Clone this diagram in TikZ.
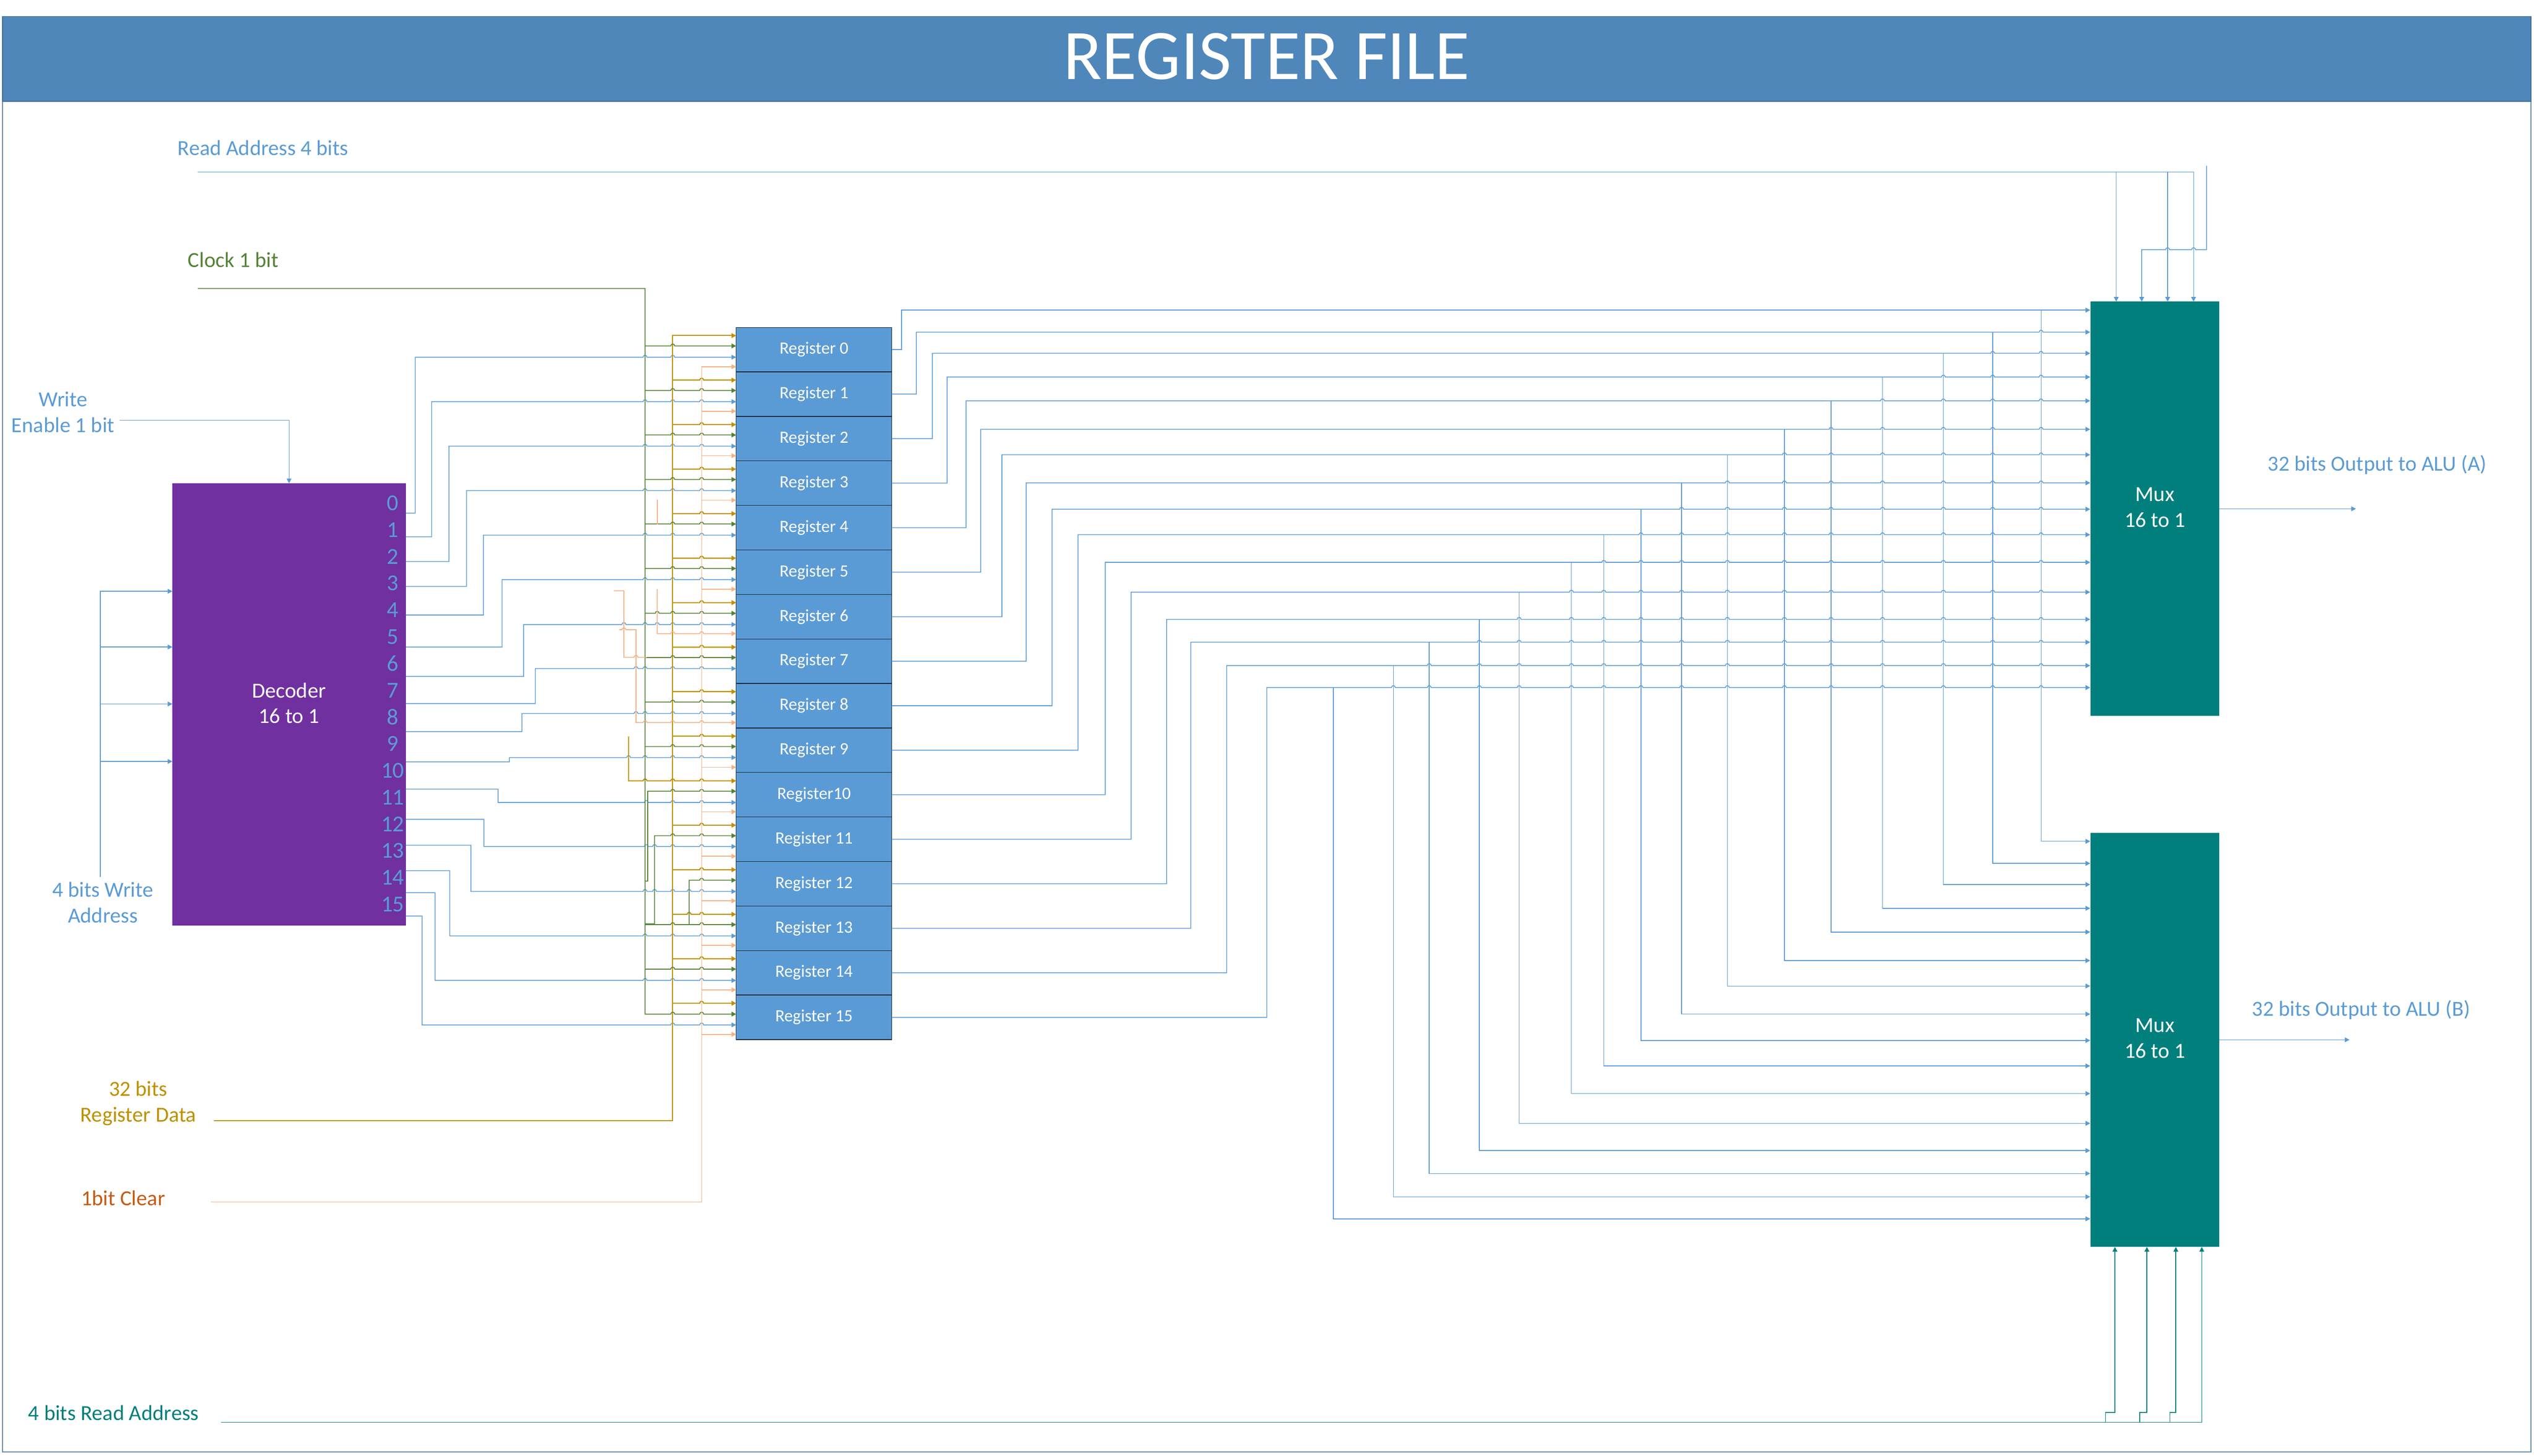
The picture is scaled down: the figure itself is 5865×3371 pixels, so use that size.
\documentclass[tikz,border=0pt]{standalone}
\usepackage{fontspec}
\setmainfont{Carlito}
\usetikzlibrary{positioning}
\usetikzlibrary{arrows.meta}
\definecolor{barblue}{HTML}{4F87BB}
\definecolor{sigblue}{HTML}{5B9BD5}
\definecolor{sigdata}{HTML}{BF9000}
\definecolor{sigclock}{HTML}{548235}
\definecolor{sigclear}{HTML}{F4B183}
\definecolor{txtclear}{HTML}{C55A11}
\definecolor{muxteal}{HTML}{017F7C}
\definecolor{decpurple}{HTML}{7030A0}
\tikzset{
  txt/.style={font=\fontsize{14.15}{17}\selectfont,align=center,inner sep=0pt},
  blk/.style={txt,text=white,minimum width=#1,inner sep=0pt,outer sep=0pt},
  regbox/.style={blk=36mm,fill=sigblue,draw=black!75!sigblue,line width=0.15mm,minimum height=10.306mm,font=\fontsize{11.3}{13}\selectfont},
  muxbox/.style={blk=29.9mm,fill=muxteal,minimum height=95.9mm},
  bitnum/.style={txt,text=sigblue,font=\fontsize{15}{17}\selectfont},
  tip/.style={-{Triangle[length=1.1mm,width=1.1mm]}},
  wblue/.style={draw=sigblue,line width=0.18mm},
  wdata/.style={draw=sigdata,line width=0.25mm},
  wclock/.style={draw=sigclock,line width=0.2mm},
  wclear/.style={draw=sigclear,line width=0.2mm},
  wteal/.style={draw=muxteal,line width=0.2mm},
}
% style, start of the path, height, jumps, end anchor
\newcommand{\hopwire}[5]{\draw[#1] #2 \foreach \hx in {#4} {-- (\hx-4.5,#3) arc[start angle=180,end angle=0,radius=0.45mm]} -- (#5 |- 0,#3);}
\begin{document}
\begin{tikzpicture}[x=0.1mm,y=-0.1mm]
    \useasboundingbox (0,0) rectangle (5865,3371);
    % frame and title
    \draw[draw=sigblue!70!black!80,line width=0.2mm] (6,235) rectangle (5858,3362);
    \node[fill=barblue,draw=barblue!80!black,line width=0.2mm,minimum width=585.2mm,minimum height=19.7mm,inner sep=0pt] (title) at (2932,136.5) {};
    \node[txt,text=white,font=\fontsize{46.8}{50}\selectfont] (titletxt) at (2932,131) {REGISTER FILE};
    % blocks
    \node[blk=54mm,fill=decpurple,minimum height=102.4mm] (dec) at (669,1631) {};
    \node[muxbox] (muxA) at (4987.5,1178) {};
    \node[muxbox] (muxB) at (4987.5,2407.5) {};
    \node[txt,text=white] (dectxt)  at (669,1628)      {Decoder\\16 to 1};
    \node[txt,text=white] (muxAtxt) at (4987.5,1175)   {Mux\\16 to 1};
    \node[txt,text=white] (muxBtxt) at (4987.5,2404.5) {Mux\\16 to 1};
    \node[regbox] (R0) at (1884,809.5) {Register 0};
    \node[regbox,below=0pt of R0]  (R1)  {Register 1};
    \node[regbox,below=0pt of R1]  (R2)  {Register 2};
    \node[regbox,below=0pt of R2]  (R3)  {Register 3};
    \node[regbox,below=0pt of R3]  (R4)  {Register 4};
    \node[regbox,below=0pt of R4]  (R5)  {Register 5};
    \node[regbox,below=0pt of R5]  (R6)  {Register 6};
    \node[regbox,below=0pt of R6]  (R7)  {Register 7};
    \node[regbox,below=0pt of R7]  (R8)  {Register 8};
    \node[regbox,below=0pt of R8]  (R9)  {Register 9};
    \node[regbox,below=0pt of R9]  (R10) {Register10};
    \node[regbox,below=0pt of R10] (R11) {Register 11};
    \node[regbox,below=0pt of R11] (R12) {Register 12};
    \node[regbox,below=0pt of R12] (R13) {Register 13};
    \node[regbox,below=0pt of R13] (R14) {Register 14};
    \node[regbox,below=0pt of R14] (R15) {Register 15};
    \foreach \k in {0,...,15}
      \node[bitnum] (d\k) at (909,1165+61.9*\k) {\k};
    % labels
    \node[txt,text=sigblue]  (lblread)  at (609,342)   {Read Address 4 bits};
    \node[txt,text=sigclock] (lblclock) at (540,602)   {Clock 1 bit};
    \node[txt,text=sigblue]  (lblwe)    at (146,954)   {Write\\Enable 1 bit};
    \node[txt,text=sigblue]  (lblwa)    at (238,2090)  {4 bits Write\\Address};
    \node[txt,text=sigdata]  (lbldata)  at (320,2555)  {32 bits\\Register Data};
    \node[txt,text=txtclear] (lblclear) at (285,2774)  {1bit Clear};
    \node[txt,text=muxteal]  (lblrdb)   at (263,3271)  {4 bits Read Address};
    \node[txt,text=sigblue]  (lblalua)  at (5502,1076) {32 bits Output to ALU (A)};
    \node[txt,text=sigblue]  (lblalub)  at (5465,2338) {32 bits Output to ALU (B)};
    % free ends
    \coordinate (rdA)  at (458,398);
    \coordinate (clk)  at (458,668);
    \coordinate (we)   at (277,973);
    \coordinate (wa)   at (232,2030);
    \coordinate (dat)  at (495,2595);
    \coordinate (clr)  at (488,2783);
    \coordinate (rdB)  at (511,3293);
    \coordinate (outA) at (5453,1178);
    \coordinate (outB) at (5438,2407.5);
    % write enable and write address
    \draw[wblue,tip] (we) -| (dec.north);
    \draw[wblue,tip] (wa) |- (dec.west |- 0,1369);
    \foreach \y in {1498,1630,1763}
      \draw[wblue,tip] (232,\y) -- (dec.west |- 0,\y);
    % decoder to registers
    \hopwire{wblue,tip}{(dec.east |- 0,1188) -| (961,827)}{827}{1493,1557}{R0.west}
    \hopwire{wblue,tip}{(dec.east |- 0,1243) -| (999,930)}{930}{1493,1557,1624}{R1.west}
    \hopwire{wblue,tip}{(dec.east |- 0,1300) -| (1039,1033)}{1033}{1493,1557,1624}{R2.west}
    \hopwire{wblue,tip}{(dec.east |- 0,1358) -| (1080,1136)}{1136}{1493,1557,1624}{R3.west}
    \hopwire{wblue,tip}{(dec.east |- 0,1424) -| (1119,1239)}{1239}{1493,1557,1624}{R4.west}
    \hopwire{wblue,tip}{(dec.east |- 0,1498) -| (1162,1342)}{1342}{1493,1557,1624}{R5.west}
    \hopwire{wblue,tip}{(dec.east |- 0,1566) -| (1212,1446)}{1446}{1444,1493,1521,1557,1624}{R6.west}
    \hopwire{wblue,tip}{(dec.east |- 0,1629) -| (1239,1548)}{1548}{1472,1493,1557,1624}{R7.west}
    \hopwire{wblue,tip}{(dec.east |- 0,1694) -| (1208,1652)}{1652}{1472,1493,1557,1624}{R8.west}
    \hopwire{wblue,tip}{(dec.east |- 0,1764) -| (1179,1754)}{1754}{1455,1493,1557,1624}{R9.west}
    \hopwire{wblue,tip}{(dec.east |- 0,1827) -| (1153,1858)}{1858}{1496,1557,1624}{R10.west}
    \hopwire{wblue,tip}{(dec.east |- 0,1897) -| (1120,1960)}{1960}{1496,1515,1557,1624}{R11.west}
    \hopwire{wblue,tip}{(dec.east |- 0,1957) -| (1090,2064)}{2064}{1493,1515,1557,1595,1624}{R12.west}
    \hopwire{wblue,tip}{(dec.east |- 0,2016) -| (1041,2167)}{2167}{1493,1557,1624}{R13.west}
    \hopwire{wblue,tip}{(dec.east |- 0,2067) -| (1007,2270)}{2270}{1493,1557,1624}{R14.west}
    \hopwire{wblue,tip}{(dec.east |- 0,2121) -| (977,2373)}{2373}{1557,1624}{R15.west}
    % data
    \draw[wdata,tip] (dat) -| (1557,777) -- (R0.west |- 0,777);
    \foreach \k in {1,...,9,11,12,14,15} {
      \pgfmathsetmacro\yy{777+103.06*\k}
      \hopwire{wdata,tip}{(1557,\yy)}{\yy}{1624}{R\k.west}
    }
    \hopwire{wdata,tip}{(1455,1705) -- (1455,1808)}{1808}{1493,1557,1624}{R10.west}
    \hopwire{wdata,tip}{(1557,2117)}{2117}{1595,1624}{R13.west}
    % clock
    \hopwire{wclock,tip}{(clk) -| (1493,2348)}{2348}{1557,1624}{R15.west}
    \hopwire{wclock,tip}{(1493,801)}{801}{1557}{R0.west}
    \foreach \k in {1,2,3,4,5,7,8,9,13,14} {
      \pgfmathsetmacro\yy{801+103.06*\k}
      \hopwire{wclock,tip}{(1493,\yy)}{\yy}{1557,1624}{R\k.west}
    }
    \hopwire{wclock,tip}{(1493,1420)}{1420}{1521,1557,1624}{R6.west}
    \hopwire{wclock,tip}{(1493,2040) -| (1499,1832)}{1832}{1557,1624}{R10.west}
    \hopwire{wclock,tip}{(1493,2139) -| (1515,1935)}{1935}{1557,1624}{R11.west}
    \hopwire{wclock,tip}{(1595,2141) -- (1595,2038)}{2038}{1624}{R12.west}
    % clear
    \draw[wclear,tip] (clr) -| (1624,849) -- (R0.west |- 0,849);
    \foreach \k in {1,2,3,5,9,10,11,12,13,14,15} {
      \pgfmathsetmacro\yy{849+103.06*\k}
      \draw[wclear,tip] (1624,\yy) -- (R\k.west |- 0,\yy);
    }
    \draw[wclear] (1521,1157) -- (1521,1214);
    \hopwire{wclear,tip}{(1521,1364) -- (1521,1467)}{1467}{1557,1624}{R6.west}
    \draw[wclear] (1421,1368) -| (1444,1522) -- (1467.5,1522) arc[start angle=180,end angle=0,radius=0.45mm] -- (1497,1522);
    \draw[wclear,tip] (1433,1458) -- (1439.5,1458) arc[start angle=180,end angle=0,radius=0.45mm] -- (1472,1458) -- (1472,1673) -- (1488.5,1673) arc[start angle=180,end angle=0,radius=0.45mm] -- (1552.5,1673) arc[start angle=180,end angle=0,radius=0.45mm] -- (1619.5,1673) arc[start angle=180,end angle=0,radius=0.45mm] -- (R8.west |- 0,1673);
    % registers to mux A, taps to mux B
    \draw[wblue,tip] (R0.east) -| (2087,718) -- (muxA.west |- 0,718);
    \draw[wblue,tip] (4724,718) |- (muxB.west |- 0,1948);
    \def\taplist{4724}
    \foreach \k/\rx/\my/\tx in {1/2121/769/4612,2/2158/818/4498,3/2192/873/4357,4/2236/928/4238,
        5/2270/994/4130,6/2319/1053/3998,7/2375/1118/3892,8/2435/1179/3798,9/2495/1238/3712,
        10/2558/1302/3637,11/2618/1371/3516,12/2700/1434/3424,13/2756/1487/3308,14/2839/1541/3225,
        15/2932/1592/3086} {
      \draw[wblue,tip] (R\k.east) -| (\rx,\my) \foreach \hx in \taplist {-- (\hx-4.5,\my) arc[start angle=180,end angle=0,radius=0.45mm]} -- (muxA.west |- 0,\my);
      \draw[wblue,tip] (\tx,\my) |- (muxB.west |- 0,\my+1230);
      \xdef\taplist{\tx,\taplist}
    }
    % read address A
    \draw[wblue,tip] (rdA) -| (5077,0 |- muxA.north);
    \draw[wblue,tip] (4898,398) -- (4898,0 |- muxA.north);
    \draw[wblue,tip] (5017,398) -- (5017,0 |- muxA.north);
    \draw[wblue,tip] (5107,384) -- (5107,578) -- (5081.5,578) arc[start angle=0,end angle=180,radius=0.45mm] -- (5021.5,578) arc[start angle=0,end angle=180,radius=0.45mm] -- (4957,578) -- (4957,0 |- muxA.north);
    % read address B
    \draw[wteal,tip] (rdB) -| (5096,0 |- muxB.south);
    \draw[wteal,tip] (4873,3293) |- (4895,3270) -- (4895,0 |- muxB.south);
    \draw[wteal,tip] (4952,3293) |- (4969,3270) -- (4969,0 |- muxB.south);
    \draw[wteal,tip] (5022,3293) |- (5036,3270) -- (5036,0 |- muxB.south);
    % outputs
    \draw[wblue,tip] (muxA.east) -- (outA);
    \draw[wblue,tip] (muxB.east) -- (outB);
\end{tikzpicture}
\end{document}
